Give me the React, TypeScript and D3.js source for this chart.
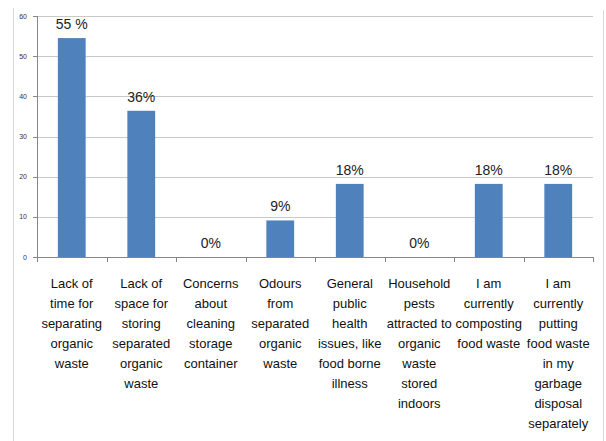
import React from 'react';
import * as d3 from 'd3';

// chart data
const categories: string[][] = [
  ['Lack of', 'time for', 'separating', 'organic', 'waste'],
  ['Lack of', 'space for', 'storing', 'separated', 'organic', 'waste'],
  ['Concerns', 'about', 'cleaning', 'storage', 'container'],
  ['Odours', 'from', 'separated', 'organic', 'waste'],
  ['General', 'public', 'health', 'issues, like', 'food borne', 'illness'],
  ['Household', 'pests', 'attracted to', 'organic', 'waste', 'stored', 'indoors'],
  ['I am', 'currently', 'composting', 'food waste'],
  ['I am', 'currently', 'putting', 'food waste', 'in my', 'garbage', 'disposal', 'separately'],
];
const values: number[] = [54.5, 36.4, 0, 9.1, 18.2, 0, 18.2, 18.2];
const valueLabels: string[] = ['55 %', '36%', '0%', '9%', '18%', '0%', '18%', '18%'];
const yTicks: number[] = [0, 10, 20, 30, 40, 50, 60];

const W = 606;
const H = 441;
const margin = { left: 37, right: 13, top: 16, bottom: 184 };

const App: React.FC = () => {
  const x = d3.scaleBand<number>()
    .domain(d3.range(values.length))
    .range([margin.left, W - margin.right])
    .padding(0);
  const y = d3.scaleLinear()
    .domain([0, 60])
    .range([H - margin.bottom, margin.top]);

  const step = x.step();
  const barW = step * 0.4;
  const y0 = y(0);
  const font = '"Liberation Sans", Arial, sans-serif';

  return (
    <svg width={W} height={H} style={{ position: 'absolute', left: 0, top: 0, background: '#fff' }}>
      {/* outer frame */}
      <line x1={13.5} x2={13.5} y1={8} y2={H} stroke="#d9d9d9" />
      <line x1={603.5} x2={603.5} y1={10} y2={H} stroke="#d9d9d9" />

      {/* gridlines + y ticks */}
      {yTicks.map(t => (
        <g key={t}>
          {t > 0 && (
            <line x1={margin.left} x2={W - margin.right} y1={Math.round(y(t)) + 0.5} y2={Math.round(y(t)) + 0.5} stroke="#c8c8c8" />
          )}
          <line x1={margin.left - 4} x2={margin.left} y1={Math.round(y(t)) + 0.5} y2={Math.round(y(t)) + 0.5} stroke="#868686" />
          <text x={27} y={y(t) + 2.5} textAnchor="end" fontSize={7} fontFamily={font} fill="#333">{t}</text>
        </g>
      ))}

      {/* bars */}
      {values.map((v, i) => {
        const cx = (x(i) as number) + step / 2;
        return (
          <g key={i}>
            {v > 0 && (
              <rect x={cx - barW / 2} y={y(v)} width={barW} height={y0 - y(v)} fill="#4f81bd" />
            )}
            <text x={cx} y={y(v) - 9} textAnchor="middle" fontSize={14} fontFamily={font} fill="#222">{valueLabels[i]}</text>
          </g>
        );
      })}

      {/* axes */}
      <line x1={margin.left + 0.5} x2={margin.left + 0.5} y1={margin.top} y2={y0} stroke="#868686" />
      <line x1={margin.left} x2={W - margin.right} y1={Math.round(y0) + 0.5} y2={Math.round(y0) + 0.5} stroke="#868686" />
      {d3.range(values.length + 1).map(i => {
        const tx = Math.round(margin.left + i * step) + 0.5;
        return <line key={i} x1={tx} x2={tx} y1={y0} y2={y0 + 5} stroke="#868686" />;
      })}

      {/* category labels */}
      {categories.map((lines, i) => (
        <text key={i} textAnchor="middle" fontSize={13} fontFamily={font} fill="#111">
          {lines.map((l, j) => (
            <tspan key={j} x={(x(i) as number) + step / 2} y={288 + j * 20}>{l}</tspan>
          ))}
        </text>
      ))}
    </svg>
  );
};

export default App;
